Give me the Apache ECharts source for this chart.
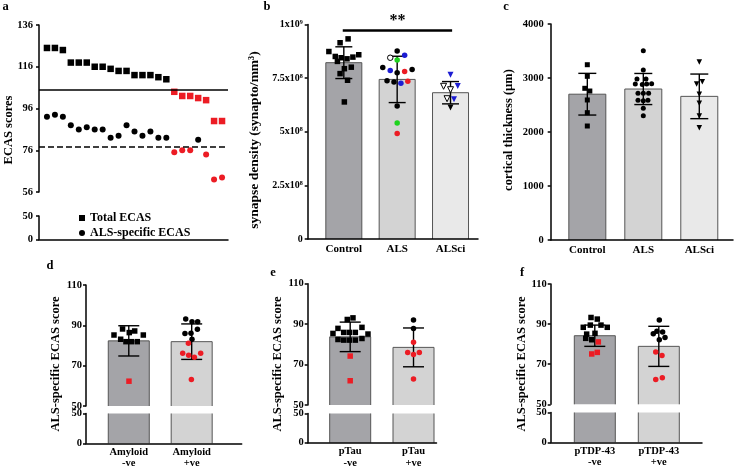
<!DOCTYPE html>
<html><head><meta charset="utf-8">
<script src="https://cdn.jsdelivr.net/npm/echarts@6/dist/echarts.min.js"></script>
<style>html,body{margin:0;padding:0;background:#fff}#c{width:738px;height:467px}</style>
</head><body><div id="c"></div>
<script>
// ---------------- DATA ----------------
// Panel a
const aTotalEcas   = [125,125,124,118,118,118,116,116,115,114,114,112,112,112,111,110,104,102,102,101,100,90,90];
const aAlsSpecific = [92,93,92,88,86,87,86,86,82,83,88,85,83,85,82,82,75,76,76,81,74,62,63];
const aTotalCutoff = 105;
const aAlsCutoff = 77.5;
const aTicksUpper = [56,76,96,116,136];
const aTicksLower = [0,50];

// Panel b
const bCategories = ['Control','ALS','ALSci'];
const bMeans = [8.22e8, 7.44e8, 6.82e8];
const bSD    = [0.74e8, 1.08e8, 0.52e8];
const bTicks = [0, 2.5e8, 5e8, 7.5e8, 1e9];
const bTickLabels = ['0','2.5x10⁸','5x10⁸','7.5x10⁸','1x10⁹'];
const bControl = [[1.08,9.33e8],[0.93,9.15e8],[0.72,8.74e8],[1.28,8.59e8],[0.84,8.51e8],[0.95,8.45e8],[1.06,8.40e8],[1.17,8.48e8],[0.88,8.28e8],[1.01,7.94e8],[1.14,8.01e8],[0.93,7.71e8],[1.07,7.40e8],[1.01,6.39e8]];
const bAlsBlack = [[2.0,8.76e8],[1.73,7.99e8],[2.0,7.75e8],[2.28,7.90e8],[1.81,7.38e8],[1.94,7.32e8],[2.0,6.20e8]];
const bAlsBlue  = [[2.14,8.57e8],[1.87,7.85e8],[2.07,7.26e8]];
const bAlsGreen = [[2.0,8.34e8],[2.0,5.41e8]];
const bAlsRed   = [[2.14,7.81e8],[2.2,7.35e8],[2.0,4.92e8]];
const bAlsOpen  = [[1.87,8.45e8]];
const bSciBlue  = [[3.0,7.66e8],[3.135,7.13e8],[3.065,6.51e8]];
const bSciOpen  = [[2.87,7.12e8],[3.0,6.96e8],[2.935,6.54e8]];
const bSciBlack = [[3.0,6.13e8]];
const bSigSpan = [0.98, 3.03];
const bSigLevel = 9.73e8;
const bSigText = '**';

// Panel c
const cCategories = ['Control','ALS','ALSci'];
const cMeans = [2700, 2796, 2660];
const cSD    = [386, 288, 413];
const cTicks = [0,1000,2000,3000,4000];
const cControl = [[1,3246],[1,3031],[0.955,2809],[1.045,2759],[1,2593],[1,2358],[1,2111]];
const cAls = [[2,3506],[2,3148],[1.887,2981],[2.048,2981],[1.857,2889],[1.982,2880],[2.06,2889],[2.149,2895],[1.905,2716],[2,2716],[2.095,2716],[1.905,2586],[2,2580],[2.083,2586],[2,2438],[2,2302]];
const cSci = [[3,3296],[2.952,2889],[3.054,2932],[3,2698],[3,2531],[3,2296],[3,2080]];

// Panels d, e, f (broken axis)
const defTicksUpper = [50,70,90,110];
const defTicksLower = [0,50];
const dCategories = ['Amyloid\n-ve','Amyloid\n+ve'];
const dMeans = [82.3, 81.9];
const dSD    = [7.5, 8.8];
const dNegBlack = [[0.901,88.2],[1.094,87.2],[1.008,86.4],[0.765,85.2],[1.231,85.2],[0.871,83.1],[0.955,81.9],[1.04,81.9],[1.135,81.9]];
const dNegRed   = [[1.003,62.3]];
const dPosBlack = [[1.905,93.2],[2.005,91.8],[2.095,91.8],[1.893,85.9],[1.989,86.1],[2.091,88.0],[2.005,83.1]];
const dPosRed   = [[1.948,81.1],[1.857,76.2],[1.952,75.2],[2.043,74.2],[2.143,76.2],[1.995,63.2]];

const eCategories = ['pTau\n-ve','pTau\n+ve'];
const eMeans = [83.7, 78.5];
const eSD    = [7.3, 9.6];
const eNegBlack = [[0.954,92.3],[1.044,93.1],[0.807,87.9],[1.186,88.4],[0.728,85.4],[0.897,85.9],[0.986,85.9],[1.081,85.9],[1.281,85.1],[0.807,82.4],[0.897,82.1],[0.986,82.1],[1.081,82.1],[1.186,82.9]];
const eNegRed   = [[1.0,74.2],[1.0,62.0]];
const ePosBlack = [[2.0,92.0],[2.0,87.9]];
const ePosRed   = [[2.0,81.0],[1.908,76.0],[2.0,75.0],[2.092,76.0],[2.0,62.8]];

const fCategories = ['pTDP-43\n-ve','pTDP-43\n+ve'];
const fMeans = [84.2, 78.9];
const fSD    = [5.3, 10.0];
const fNegBlack = [[0.941,93.3],[1.039,92.5],[0.82,88.4],[0.93,89.5],[1.097,89.5],[1.195,88.4],[0.873,85.0],[1.003,85.4],[0.858,82.9],[0.952,82.2]];
const fNegRed   = [[1.055,81.1],[0.952,75.1],[1.039,75.9]];
const fPosBlack = [[2.008,92.1],[1.914,85.2],[1.97,86.4],[2.06,86.0],[2.097,83.3],[2.008,82.2]];
const fPosRed   = [[1.952,76.1],[2.05,74.3],[1.952,62.4],[2.055,63.2]];

// ---------------- STYLE ----------------
const FONT = '"Liberation Serif","Times New Roman",serif';
const BLACK = '#000', RED = '#ec1c24', BLUE = '#1c1cd2', GREEN = '#1ed31e';
const DARK = '#a4a4a8', MID = '#d3d3d3', LIGHT = '#e9e9e9';

const grids = [
  {left:39,    top:25,    width:189,   height:167},    // 0 a upper
  {left:39,    top:216,   width:189,   height:23.3},   // 1 a lower
  {left:307.7, top:24.5,  width:170.3, height:214.5},  // 2 b
  {left:550.7, top:24,    width:182.3, height:216},    // 3 c
  {left:86,    top:285,   width:155.7, height:121},    // 4 d upper
  {left:86,    top:413.5, width:155.7, height:29.8},   // 5 d lower
  {left:307.7, top:283.7, width:128.8, height:121.3},  // 6 e upper
  {left:307.7, top:413.5, width:128.8, height:29.2},   // 7 e lower
  {left:550.7, top:284,   width:151.3, height:120.3},  // 8 f upper
  {left:550.7, top:412.5, width:151.3, height:29.8}    // 9 f lower
].map(g => Object.assign({containLabel:false, outerBoundsMode:'none'}, g));

function yAx(grid, min, max, ticks, labels, margin, fontSize) {
  return {type:'value', gridIndex:grid, min:min, max:max, z:5,
    axisLine:{show:true, lineStyle:{color:BLACK, width:1.5}},
    axisTick:{show:true, inside:false, length:3, customValues:ticks, lineStyle:{color:BLACK, width:1.5}},
    axisLabel:{show:true, customValues:ticks, margin:margin, color:BLACK, fontFamily:FONT, fontWeight:'bold', fontSize:fontSize,
      formatter: v => labels ? labels[ticks.indexOf(v)] : String(v)},
    splitLine:{show:false}};
}
function xHidden(grid, min, max) {
  return {type:'value', gridIndex:grid, min:min, max:max, show:false};
}
function xAx(grid, min, max, cats, fontSize, margin, lineHeight) {
  const vals = cats ? cats.map((c,i)=>i+1) : [];
  return {type:'value', gridIndex:grid, min:min, max:max, z:5,
    axisLine:{show:true, onZero:false, lineStyle:{color:BLACK, width:1.5}},
    axisTick:{show:false},
    axisLabel:{show:!!cats, customValues:vals, margin:margin, color:BLACK, fontFamily:FONT, fontWeight:'bold', fontSize:fontSize, lineHeight:lineHeight,
      formatter: v => cats ? cats[Math.round(v)-1] : ''},
    splitLine:{show:false}};
}

function barSeries(ai, means, colors, w) {
  return {type:'custom', xAxisIndex:ai, yAxisIndex:ai, z:2, silent:true, clip:false,
    data: means.map((m,i)=>[i+1, m]), encode:{x:0, y:1},
    renderItem(params, api) {
      const cs = params.coordSys;
      const p = api.coord([api.value(0), api.value(1)]);
      const bottom = cs.y + cs.height;
      const top = Math.max(p[1], cs.y);
      const l = p[0] - w/2, r = p[0] + w/2;
      const st = {stroke:'#555', lineWidth:1, fill:null};
      const ch = [{type:'rect', shape:{x:l, y:top, width:w, height:bottom-top}, style:{fill:colors[params.dataIndex]}}];
      if (p[1] >= cs.y) {
        ch.push({type:'polyline', shape:{points:[[l,bottom],[l,top],[r,top],[r,bottom]]}, style:st});
      } else {
        ch.push({type:'line', shape:{x1:l,y1:top,x2:l,y2:bottom}, style:st});
        ch.push({type:'line', shape:{x1:r,y1:top,x2:r,y2:bottom}, style:st});
      }
      return {type:'group', children:ch};
    }};
}
function errSeries(ai, means, sds, cap) {
  return {type:'custom', xAxisIndex:ai, yAxisIndex:ai, z:3, silent:true, clip:false,
    data: means.map((m,i)=>[i+1, m, sds[i]]), encode:{x:0, y:1},
    renderItem(params, api) {
      const x = api.value(0), m = api.value(1), s = api.value(2);
      const t = api.coord([x, m+s]), b = api.coord([x, m-s]);
      const st = {stroke:BLACK, lineWidth:1.4};
      return {type:'group', children:[
        {type:'line', shape:{x1:t[0],y1:t[1],x2:b[0],y2:b[1]}, style:st},
        {type:'line', shape:{x1:t[0]-cap/2,y1:t[1],x2:t[0]+cap/2,y2:t[1]}, style:st},
        {type:'line', shape:{x1:b[0]-cap/2,y1:b[1],x2:b[0]+cap/2,y2:b[1]}, style:st}
      ]};
    }};
}
function sc(ai, data, symbol, color, size, extra) {
  return Object.assign({type:'scatter', xAxisIndex:ai, yAxisIndex:ai, data:data, symbol:symbol, symbolSize:size,
    itemStyle:{color:color, opacity:1}, z:4, silent:true}, extra || {});
}
const openStyle = {itemStyle:{color:'#fff', borderColor:BLACK, borderWidth:1, opacity:1}};
const triDown = {symbolRotate:180};

function brokenPanel(up, lo, means, sds, negBlack, negRed, posBlack, posRed) {
  return [
    barSeries(up, means, [DARK, MID], 41),
    barSeries(lo, means, [DARK, MID], 41),
    errSeries(up, means, sds, 21),
    sc(up, negBlack, 'rect', BLACK, 5.5),
    sc(up, negRed, 'rect', RED, 5.5),
    sc(up, posBlack, 'circle', BLACK, 5.5),
    sc(up, posRed, 'circle', RED, 5.5)
  ];
}

const xAxes = [
  xHidden(0, 0, 23.75),
  xAx(1, 0, 23.75, null, 10, 4, 12),
  xAx(2, 0.323, 3.515, bCategories, 11, 4, 12),
  xAx(3, 0.346, 3.602, cCategories, 11, 4, 12),
  xHidden(4, 0.32, 2.795),
  xAx(5, 0.32, 2.795, dCategories, 10.5, 3, 11.5),
  xHidden(6, 0.329, 2.363),
  xAx(7, 0.329, 2.363, eCategories, 10.5, 3, 11.5),
  xHidden(8, 0.311, 2.675),
  xAx(9, 0.311, 2.675, fCategories, 10.5, 3, 11.5)
];
const yAxes = [
  yAx(0, 56, 136, aTicksUpper, null, 6, 10.5),
  yAx(1, 0, 50, aTicksLower, null, 6, 10.5),
  yAx(2, 0, 1e9, bTicks, bTickLabels, 5, 10),
  yAx(3, 0, 4000, cTicks, null, 7, 10.5),
  yAx(4, 50, 110, defTicksUpper, null, 4, 10.5),
  yAx(5, 0, 50, defTicksLower, null, 4, 10.5),
  yAx(6, 50, 110, defTicksUpper, null, 4, 10.5),
  yAx(7, 0, 50, defTicksLower, null, 4, 10.5),
  yAx(8, 50, 110, defTicksUpper, null, 4, 10.5),
  yAx(9, 0, 50, defTicksLower, null, 4, 10.5)
];

const series = [
  // panel a
  {type:'scatter', name:'Total ECAS', xAxisIndex:0, yAxisIndex:0, symbol:'rect', symbolSize:6.5, z:4, silent:true,
    itemStyle:{color:BLACK, opacity:1},
    data: aTotalEcas.map((v,i)=>({value:[i+1, v], itemStyle:{color: v < aTotalCutoff ? RED : BLACK}})),
    markLine:{silent:true, symbol:['none','none'], label:{show:false}, lineStyle:{color:BLACK, width:1.5, type:'solid'}, data:[{yAxis:aTotalCutoff}]}},
  {type:'scatter', name:'ALS-specific ECAS', xAxisIndex:0, yAxisIndex:0, symbol:'circle', symbolSize:6, z:4, silent:true,
    itemStyle:{color:BLACK, opacity:1},
    data: aAlsSpecific.map((v,i)=>({value:[i+1, v], itemStyle:{color: v < aAlsCutoff ? RED : BLACK}})),
    markLine:{silent:true, symbol:['none','none'], label:{show:false}, lineStyle:{color:BLACK, width:1.5, type:[6,3]}, data:[{yAxis:aAlsCutoff}]}},
  // panel b
  barSeries(2, bMeans, [DARK, MID, LIGHT], 36),
  errSeries(2, bMeans, bSD, 17),
  sc(2, bControl, 'rect', BLACK, 5.5, {
    markLine:{silent:true, symbol:['none','none'], lineStyle:{color:BLACK, width:2.7, type:'solid'},
      label:{show:true, formatter:bSigText, position:'insideMiddleTop', distance:1, color:BLACK, fontFamily:FONT, fontWeight:'bold', fontSize:16},
      data:[[{coord:[bSigSpan[0], bSigLevel]},{coord:[bSigSpan[1], bSigLevel]}]]}}),
  sc(2, bAlsBlack, 'circle', BLACK, 5.5),
  sc(2, bAlsBlue, 'circle', BLUE, 5.5),
  sc(2, bAlsGreen, 'circle', GREEN, 5.5),
  sc(2, bAlsRed, 'circle', RED, 5.5),
  sc(2, bAlsOpen, 'circle', '#fff', 5.5, openStyle),
  sc(2, bSciBlue, 'triangle', BLUE, 6, triDown),
  sc(2, bSciOpen, 'triangle', '#fff', 6, Object.assign({}, triDown, openStyle)),
  sc(2, bSciBlack, 'triangle', BLACK, 6, triDown),
  // panel c
  barSeries(3, cMeans, [DARK, MID, LIGHT], 37),
  errSeries(3, cMeans, cSD, 18),
  sc(3, cControl, 'rect', BLACK, 5),
  sc(3, cAls, 'circle', BLACK, 5),
  sc(3, cSci, 'triangle', BLACK, 5.5, triDown)
].concat(
  brokenPanel(4, 5, dMeans, dSD, dNegBlack, dNegRed, dPosBlack, dPosRed),
  brokenPanel(6, 7, eMeans, eSD, eNegBlack, eNegRed, ePosBlack, ePosRed),
  brokenPanel(8, 9, fMeans, fSD, fNegBlack, fNegRed, fPosBlack, fPosRed)
);

function txt(text, x, y, size, rot) {
  return {type:'text', x:x, y:y, rotation: rot ? Math.PI/2 : 0, silent:true, z:10,
    style:{text:text, fill:BLACK, font:'bold ' + size + 'px ' + FONT,
      textAlign:'center', textVerticalAlign:'middle', align:'center', verticalAlign:'middle'}};
}
const graphic = [
  txt('a', 5.5, 6.5, 12.5), txt('b', 267, 6.5, 12.5), txt('c', 506, 6.5, 12.5),
  txt('d', 50, 266, 12.5), txt('e', 273, 273, 12.5), txt('f', 522, 273, 12.5),
  txt('ECAS scores', 8.5, 130, 12.5, true),
  txt('synapse density (synapto/mm³)', 255, 140, 13.5, true),
  txt('cortical thickness (µm)', 509, 130, 12.5, true),
  txt('ALS-specific ECAS score', 56, 364, 12.5, true),
  txt('ALS-specific ECAS score', 277.5, 364, 12.5, true),
  txt('ALS-specific ECAS score', 522, 364, 12.5, true)
];

const chart = echarts.init(document.getElementById('c'), null, {renderer:'canvas'});
chart.setOption({
  animation:false,
  backgroundColor:'#fff',
  textStyle:{fontFamily:FONT, fontWeight:'bold', color:BLACK},
  legend:{show:true, orient:'vertical', left:74, top:207, itemWidth:6, itemHeight:6, itemGap:3, selectedMode:false,
    data:[{name:'Total ECAS', icon:'rect'},{name:'ALS-specific ECAS', icon:'circle'}],
    textStyle:{fontFamily:FONT, fontWeight:'bold', fontSize:12, color:BLACK}},
  grid:grids, xAxis:xAxes, yAxis:yAxes, series:series, graphic:graphic
});
</script></body></html>
